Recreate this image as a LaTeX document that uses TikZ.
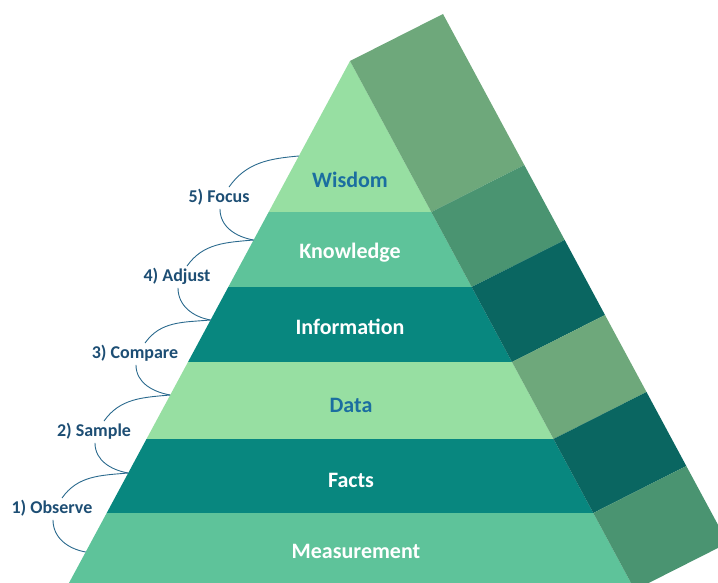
\documentclass[tikz,border=0pt]{standalone}
\usepackage{fontspec}
\setmainfont{Carlito}
\usepackage{tikz}

\definecolor{lightband}{HTML}{97DFA2}
\definecolor{midband}{HTML}{5EC39A}
\definecolor{tealband}{HTML}{08877F}
\definecolor{lightside}{HTML}{6EA87B}
\definecolor{midside}{HTML}{4A9471}
\definecolor{darkside}{HTML}{0A6661}
\definecolor{bluetext}{HTML}{1B6EA0}
\definecolor{steptext}{HTML}{1D4E74}
\definecolor{linkline}{HTML}{2B6A8E}

\begin{document}
\begin{tikzpicture}[
  x=1pt, y=1pt,
  level/.style={font=\fontsize{22}{26}\selectfont\bfseries},
  stage/.style={font=\fontsize{18}{21}\selectfont\bfseries, text=steptext,
    inner sep=3pt, text height=12pt, text depth=3.5pt},
  link/.style={draw=linkline, line width=0.9pt}
]
\useasboundingbox (0,0) rectangle (718,-583);
\clip (0,0) rectangle (718,-583);

\coordinate (A) at (350,-61);
\coordinate (L1) at (268.7,-212); \coordinate (R1) at (431.3,-212);
\coordinate (L2) at (228.3,-287); \coordinate (R2) at (471.7,-287);
\coordinate (L3) at (188.0,-362); \coordinate (R3) at (512.0,-362);
\coordinate (L4) at (146.5,-439); \coordinate (R4) at (553.5,-439);
\coordinate (L5) at (106.7,-513); \coordinate (R5) at (593.3,-513);
\coordinate (L6) at (65.2,-590);  \coordinate (R6) at (634.8,-590);

% front face
\fill[lightband] (A) -- (R1) -- (L1) -- cycle;
\fill[midband] (L1) -- (R1) -- (R2) -- (L2) -- cycle;
\fill[tealband] (L2) -- (R2) -- (R3) -- (L3) -- cycle;
\fill[lightband] (L3) -- (R3) -- (R4) -- (L4) -- cycle;
\fill[tealband] (L4) -- (R4) -- (R5) -- (L5) -- cycle;
\fill[midband] (L5) -- (R5) -- (R6) -- (L6) -- cycle;

% side face
\fill[lightside] (A) -- ++(93,47) -- ([shift={(93,47)}]R1) -- (R1) -- cycle;
\fill[midside] (R1) -- ++(93,47) -- ([shift={(93,47)}]R2) -- (R2) -- cycle;
\fill[darkside] (R2) -- ++(93,47) -- ([shift={(93,47)}]R3) -- (R3) -- cycle;
\fill[lightside] (R3) -- ++(93,47) -- ([shift={(93,47)}]R4) -- (R4) -- cycle;
\fill[darkside] (R4) -- ++(93,47) -- ([shift={(93,47)}]R5) -- (R5) -- cycle;
\fill[midside] (R5) -- ++(93,47) -- ([shift={(93,47)}]R6) -- (R6) -- cycle;

\node[level, text=bluetext] (wisdom) at (350,-180) {Wisdom};
\node[level, text=white] (knowledge) at (350,-253) {Knowledge};
\node[level, text=white] (information) at (350,-327) {Information};
\node[level, text=bluetext] (data) at (351,-405) {Data};
\node[level, text=white] (facts) at (351,-480) {Facts};
\node[level, text=white] (measurement) at (356,-551) {Measurement};

\coordinate (p1) at (85.7,-552);
\coordinate (p2) at (128.2,-473);
\coordinate (p3) at (170.2,-395);
\coordinate (p4) at (210.6,-320);
\coordinate (p5) at (253.6,-240);
\coordinate (p6) at (298.9,-156);

\node[stage] (focus) at (219,-198) {5) Focus};
\node[stage] (adjust) at (177,-277) {4) Adjust};
\node[stage] (compare) at (135,-354) {3) Compare};
\node[stage] (sample) at (94,-432) {2) Sample};
\node[stage] (observe) at (52,-509) {1) Observe};

\draw[link] ([xshift=10pt]focus.north) to[out=55, in=185] (p6);
\draw[link] ([xshift=1pt]focus.south) to[out=-90, in=170] (p5);
\draw[link] ([xshift=10pt]adjust.north) to[out=55, in=185] (p5);
\draw[link] ([xshift=1pt]adjust.south) to[out=-90, in=170] (p4);
\draw[link] ([xshift=10pt]compare.north) to[out=55, in=185] (p4);
\draw[link] ([xshift=1pt]compare.south) to[out=-90, in=170] (p3);
\draw[link] ([xshift=10pt]sample.north) to[out=55, in=185] (p3);
\draw[link] ([xshift=1pt]sample.south) to[out=-90, in=170] (p2);
\draw[link] ([xshift=10pt]observe.north) to[out=55, in=185] (p2);
\draw[link] ([xshift=1pt]observe.south) to[out=-90, in=170] (p1);
\end{tikzpicture}
\end{document}
